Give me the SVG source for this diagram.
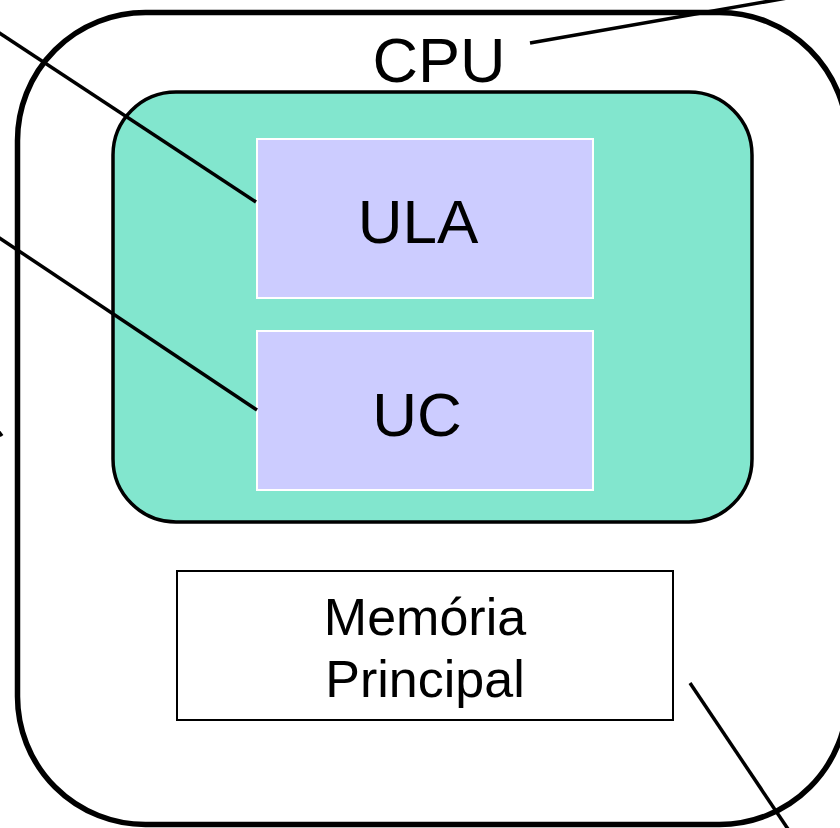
<svg xmlns="http://www.w3.org/2000/svg" width="840" height="828" viewBox="0 0 840 828">
<style>
text{font-family:"Liberation Sans",Arial,sans-serif;fill:#000;text-anchor:middle}
.conn{stroke:#000;stroke-width:3.5;fill:none}
.unit{fill:#CCCCFF;stroke:#fff;stroke-width:2}
</style>
<rect width="840" height="828" fill="#fff"/>
<g id="cpu">
<rect x="17.5" y="12.5" width="830" height="812" rx="128" ry="128" fill="#fff" stroke="#000" stroke-width="5.5"/>
<text x="439" y="82" font-size="63">CPU</text>
</g>
<g id="core">
<rect x="113" y="92" width="639" height="430" rx="63" ry="63" fill="#82E6CE" stroke="#000" stroke-width="3.5"/>
</g>
<g id="ula">
<rect class="unit" x="257" y="139" width="336" height="159"/>
<text x="418" y="243" font-size="62">ULA</text>
</g>
<g id="uc">
<rect class="unit" x="257" y="331" width="336" height="159"/>
<text x="417" y="436" font-size="62">UC</text>
</g>
<g id="memoria">
<rect x="177" y="571" width="496" height="149" fill="#fff" stroke="#000" stroke-width="2"/>
<text x="425" y="635" font-size="52">Memória</text>
<text x="425" y="697" font-size="52">Principal</text>
</g>
<g id="connectors">
<line class="conn" x1="-5" y1="30" x2="256" y2="202"/>
<line class="conn" x1="-5" y1="235" x2="257" y2="410"/>
<line class="conn" x1="-4" y1="428" x2="2" y2="436"/>
<line class="conn" x1="530" y1="43" x2="810" y2="-6"/>
<line class="conn" x1="690" y1="683" x2="790" y2="832"/>
</g>
</svg>
